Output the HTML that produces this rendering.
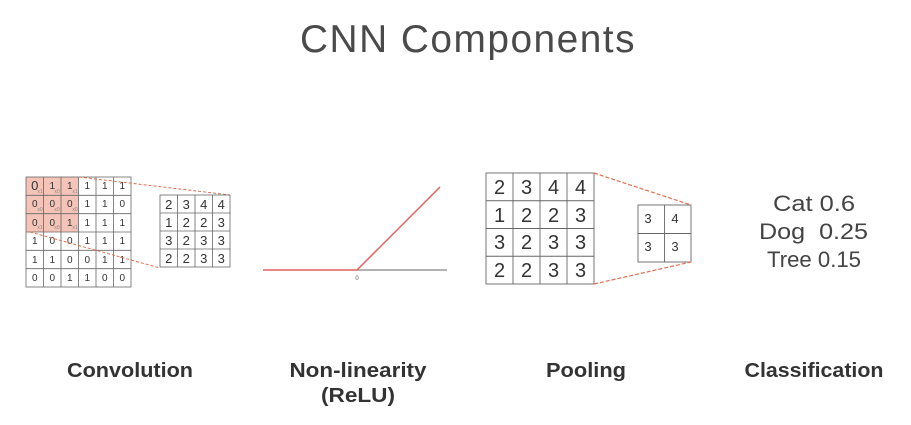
<!DOCTYPE html>
<html><head><meta charset="utf-8"><style>
html,body{margin:0;padding:0;background:#fff;}
svg{display:block;font-family:"Liberation Sans",sans-serif;}
</style></head><body>
<svg width="911" height="425" viewBox="0 0 911 425" xmlns="http://www.w3.org/2000/svg">
<rect width="911" height="425" fill="#fff"/>
<text x="468" y="52" text-anchor="middle" font-size="39" fill="#4a4a4a" letter-spacing="1.5" textLength="336" lengthAdjust="spacingAndGlyphs">CNN Components</text>

<!-- Convolution input -->
<rect x="26" y="177" width="52.5" height="55" fill="#f5c4b8"/>
<g stroke="#666" stroke-width="0.8" fill="none">
<rect x="26" y="177" width="105" height="110"/>
<line x1="43.5" y1="177" x2="43.5" y2="287"/><line x1="61" y1="177" x2="61" y2="287"/><line x1="78.5" y1="177" x2="78.5" y2="287"/><line x1="96" y1="177" x2="96" y2="287"/><line x1="113.5" y1="177" x2="113.5" y2="287"/>
<line x1="26" y1="195.3" x2="131" y2="195.3"/><line x1="26" y1="213.7" x2="131" y2="213.7"/><line x1="26" y1="232" x2="131" y2="232"/><line x1="26" y1="250.3" x2="131" y2="250.3"/><line x1="26" y1="268.7" x2="131" y2="268.7"/>
</g>
<g font-size="10" fill="#333" text-anchor="middle">
<text x="34.75" y="190" font-size="13">0</text><text x="52.25" y="189">1</text><text x="69.75" y="189">1</text><text x="87.25" y="189">1</text><text x="104.75" y="189">1</text><text x="122.25" y="189">1</text>
<text x="34.75" y="207">0</text><text x="52.25" y="207">0</text><text x="69.75" y="207">0</text><text x="87.25" y="207">1</text><text x="104.75" y="207">1</text><text x="122.25" y="207">0</text>
<text x="34.75" y="226">0</text><text x="52.25" y="226">0</text><text x="69.75" y="226">1</text><text x="87.25" y="226">1</text><text x="104.75" y="226">1</text><text x="122.25" y="226">1</text>
<text x="34.75" y="244">1</text><text x="52.25" y="244">0</text><text x="69.75" y="244">0</text><text x="87.25" y="244">1</text><text x="104.75" y="244">1</text><text x="122.25" y="244">1</text>
<text x="34.75" y="263">1</text><text x="52.25" y="263">1</text><text x="69.75" y="263">0</text><text x="87.25" y="263">0</text><text x="104.75" y="263">1</text><text x="122.25" y="263">1</text>
<text x="34.75" y="281">0</text><text x="52.25" y="281">0</text><text x="69.75" y="281">1</text><text x="87.25" y="281">1</text><text x="104.75" y="281">0</text><text x="122.25" y="281">0</text>
</g>
<g font-size="5" fill="#888" text-anchor="middle">
<text x="40" y="193">x1</text><text x="57" y="193">x0</text><text x="75" y="193">x1</text>
<text x="40" y="211">x0</text><text x="57" y="211">x0</text><text x="75" y="211">x0</text>
<text x="40" y="229">x1</text><text x="57" y="229">x0</text><text x="75" y="229">x1</text>
</g>
<line x1="79" y1="177" x2="230" y2="195" stroke="#e07050" stroke-width="1" stroke-dasharray="3,2"/>
<line x1="30" y1="232" x2="160" y2="268" stroke="#e07050" stroke-width="1" stroke-dasharray="3,2"/>

<!-- conv output -->
<g stroke="#666" stroke-width="0.8" fill="none">
<rect x="160" y="195" width="70" height="72"/>
<line x1="177.5" y1="195" x2="177.5" y2="267"/><line x1="195" y1="195" x2="195" y2="267"/><line x1="212.5" y1="195" x2="212.5" y2="267"/>
<line x1="160" y1="213" x2="230" y2="213"/><line x1="160" y1="231" x2="230" y2="231"/><line x1="160" y1="249" x2="230" y2="249"/>
</g>
<g font-size="13" fill="#333" text-anchor="middle">
<text x="168.75" y="209">2</text><text x="186.25" y="209">3</text><text x="203.75" y="209">4</text><text x="221.25" y="209">4</text>
<text x="168.75" y="227">1</text><text x="186.25" y="227">2</text><text x="203.75" y="227">2</text><text x="221.25" y="227">3</text>
<text x="168.75" y="245">3</text><text x="186.25" y="245">2</text><text x="203.75" y="245">3</text><text x="221.25" y="245">3</text>
<text x="168.75" y="263">2</text><text x="186.25" y="263">2</text><text x="203.75" y="263">3</text><text x="221.25" y="263">3</text>
</g>

<!-- ReLU -->
<line x1="357" y1="270" x2="447" y2="270" stroke="#999" stroke-width="1.5"/>
<polyline points="263,270 357,270 440,187" fill="none" stroke="#e36060" stroke-width="1.5"/>
<text x="357" y="280" font-size="6" fill="#555" text-anchor="middle">0</text>

<!-- Pooling -->
<g stroke="#666" stroke-width="0.9" fill="none">
<rect x="486" y="173" width="108" height="111"/>
<line x1="513" y1="173" x2="513" y2="284"/><line x1="540" y1="173" x2="540" y2="284"/><line x1="567" y1="173" x2="567" y2="284"/>
<line x1="486" y1="200.75" x2="594" y2="200.75"/><line x1="486" y1="228.5" x2="594" y2="228.5"/><line x1="486" y1="256.25" x2="594" y2="256.25"/>
<rect x="638" y="205" width="53" height="57"/>
<line x1="664.5" y1="205" x2="664.5" y2="262"/><line x1="638" y1="233.5" x2="691" y2="233.5"/>
</g>
<g font-size="20" fill="#333" text-anchor="middle">
<text x="499.5" y="194">2</text><text x="526.5" y="194">3</text><text x="553.5" y="194">4</text><text x="580.5" y="194">4</text>
<text x="499.5" y="222">1</text><text x="526.5" y="222">2</text><text x="553.5" y="222">2</text><text x="580.5" y="222">3</text>
<text x="499.5" y="249">3</text><text x="526.5" y="249">2</text><text x="553.5" y="249">3</text><text x="580.5" y="249">3</text>
<text x="499.5" y="277">2</text><text x="526.5" y="277">2</text><text x="553.5" y="277">3</text><text x="580.5" y="277">3</text>
</g>
<g font-size="13" fill="#333" text-anchor="middle">
<text x="648" y="223">3</text><text x="675" y="223">4</text>
<text x="648" y="251">3</text><text x="675" y="251">3</text>
</g>
<line x1="594" y1="173" x2="691" y2="205" stroke="#e07050" stroke-width="1.2" stroke-dasharray="4,2"/>
<line x1="594" y1="284" x2="691" y2="262" stroke="#e07050" stroke-width="1.2" stroke-dasharray="4,2"/>

<!-- Classification -->
<g font-size="22" fill="#444">
<text x="773" y="211" textLength="82" lengthAdjust="spacingAndGlyphs">Cat 0.6</text>
<text x="759" y="239" xml:space="preserve" textLength="109" lengthAdjust="spacingAndGlyphs">Dog  0.25</text>
<text x="767" y="267" textLength="94" lengthAdjust="spacingAndGlyphs">Tree 0.15</text>
</g>

<!-- Labels -->
<g font-size="20" font-weight="bold" fill="#333" text-anchor="middle">
<text x="130" y="377" textLength="126" lengthAdjust="spacingAndGlyphs">Convolution</text>
<text x="358" y="377" textLength="137" lengthAdjust="spacingAndGlyphs">Non-linearity</text>
<text x="358" y="402" textLength="74" lengthAdjust="spacingAndGlyphs">(ReLU)</text>
<text x="586" y="377" textLength="80" lengthAdjust="spacingAndGlyphs">Pooling</text>
<text x="814" y="377" textLength="139" lengthAdjust="spacingAndGlyphs">Classification</text>
</g>
</svg>
</body></html>
